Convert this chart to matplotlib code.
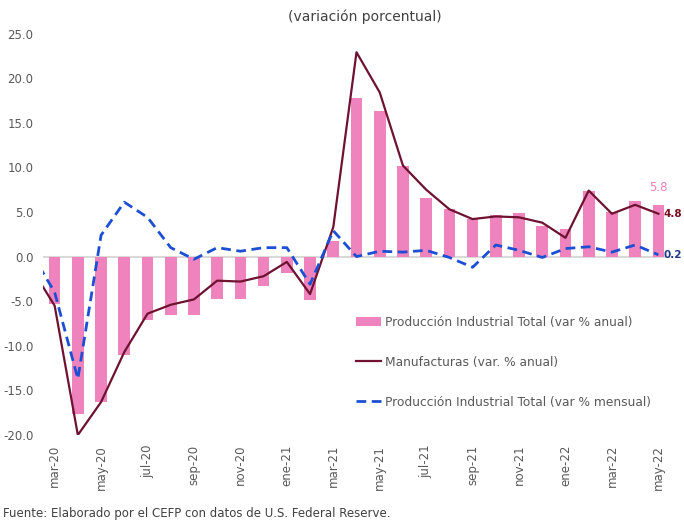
import numpy as np
import matplotlib.pyplot as plt

# Months shown on the axis (mar-20 .. may-22)
months = ['mar-20', 'abr-20', 'may-20', 'jun-20', 'jul-20', 'ago-20', 'sep-20',
          'oct-20', 'nov-20', 'dic-20', 'ene-21', 'feb-21', 'mar-21', 'abr-21',
          'may-21', 'jun-21', 'jul-21', 'ago-21', 'sep-21', 'oct-21', 'nov-21',
          'dic-21', 'ene-22', 'feb-22', 'mar-22', 'abr-22', 'may-22']

# Producción industrial total, var % anual (bars)
prod_anual = [-5.3, -17.6, -16.3, -11.0, -7.1, -6.6, -6.6, -4.8, -4.8, -3.3,
              -1.8, -4.9, 1.7, 17.8, 16.3, 10.2, 6.6, 5.3, 4.2, 4.7, 4.9,
              3.4, 3.1, 7.4, 5.0, 6.2, 5.8]

# Lines start one month earlier (feb-20), clipped by the left edge of the chart
manuf_prev = -1.3
manuf_anual = [-5.5, -20.0, -16.3, -10.7, -6.4, -5.4, -4.8, -2.7, -2.8, -2.2,
               -0.6, -4.2, 3.3, 22.9, 18.4, 10.2, 7.5, 5.3, 4.2, 4.5, 4.4,
               3.8, 2.1, 7.4, 4.8, 5.8, 4.8]

prod_mensual_prev = 0.4
prod_mensual = [-4.0, -13.7, 2.4, 6.1, 4.4, 1.0, -0.3, 1.0, 0.6, 1.0,
                1.0, -3.1, 2.9, 0.0, 0.6, 0.5, 0.7, -0.1, -1.2, 1.3, 0.7,
                -0.1, 0.9, 1.1, 0.5, 1.3, 0.2]

yticks = [-20, -15, -10, -5, 0, 5, 10, 15, 20, 25]

# Colors
pink = '#EF83BD'
maroon = '#6E1230'
blue = '#1C4FD4'
gray_txt = '#595959'

plt.rcParams['font.family'] = ['DejaVu Sans']

fig = plt.figure(figsize=(6.84, 5.21), dpi=100, facecolor='white')
ax = fig.add_axes([0.0629, 0.165, 0.9166, 0.7707])

x = np.arange(len(months))
x_line = np.arange(-1, len(months))

ax.axhline(0, color='#D9D9D9', lw=1.5, zorder=1)
bars = ax.bar(x, prod_anual, width=0.5, color=pink, zorder=2,
              label='Producción Industrial Total (var % anual)')
l1, = ax.plot(x_line, [manuf_prev] + manuf_anual, color=maroon, lw=1.6, zorder=3,
              label='Manufacturas (var. % anual)')
l2, = ax.plot(x_line, [prod_mensual_prev] + prod_mensual, color=blue, lw=2.0,
              dashes=(3.5, 2), zorder=4,
              label='Producción Industrial Total (var % mensual)')

ax.set_xlim(-0.5, len(months) - 0.5)
ax.set_ylim(-20, 25)
ax.set_yticks(yticks)
ax.set_yticklabels(['%.1f' % v for v in yticks], color=gray_txt, fontsize=8.5)
ax.set_xticks(x[::2])
ax.set_xticklabels(months[::2], rotation=90, color=gray_txt, fontsize=8.5)
ax.tick_params(axis='both', length=0, pad=7)
for s in ax.spines.values():
    s.set_visible(False)

# Last-value labels
ax.annotate('%.1f' % prod_anual[-1], (x[-1], prod_anual[-1]), xytext=(0, 8),
            textcoords='offset points', ha='center', va='bottom',
            color='#F07EB8', fontsize=8.5, annotation_clip=False)
ax.annotate('%.1f' % manuf_anual[-1], (x[-1], manuf_anual[-1]), xytext=(4, 0),
            textcoords='offset points', ha='left', va='center',
            color='#7A1020', fontsize=7.5, fontweight='bold', annotation_clip=False)
ax.annotate('%.1f' % prod_mensual[-1], (x[-1], prod_mensual[-1]), xytext=(4, 0),
            textcoords='offset points', ha='left', va='center',
            color='#1F3A8A', fontsize=7.5, fontweight='bold', annotation_clip=False)

leg = ax.legend(handles=[bars, l1, l2], loc='upper left',
                bbox_to_anchor=(0.505, 0.415),
                bbox_transform=fig.transFigure, frameon=False, fontsize=8.8,
                handlelength=2.0, handletextpad=0.3, labelspacing=2.2,
                labelcolor=gray_txt)

fig.text(0.534, 0.967, '(variación porcentual)', ha='center', va='center',
         fontsize=10, color='#404040')
fig.text(0.004, 0.014, 'Fuente: Elaborado por el CEFP con datos de U.S. Federal Reserve.',
         ha='left', va='center', fontsize=8.5, color='#404040')

fig.savefig('out.png', dpi=100, facecolor='white')
